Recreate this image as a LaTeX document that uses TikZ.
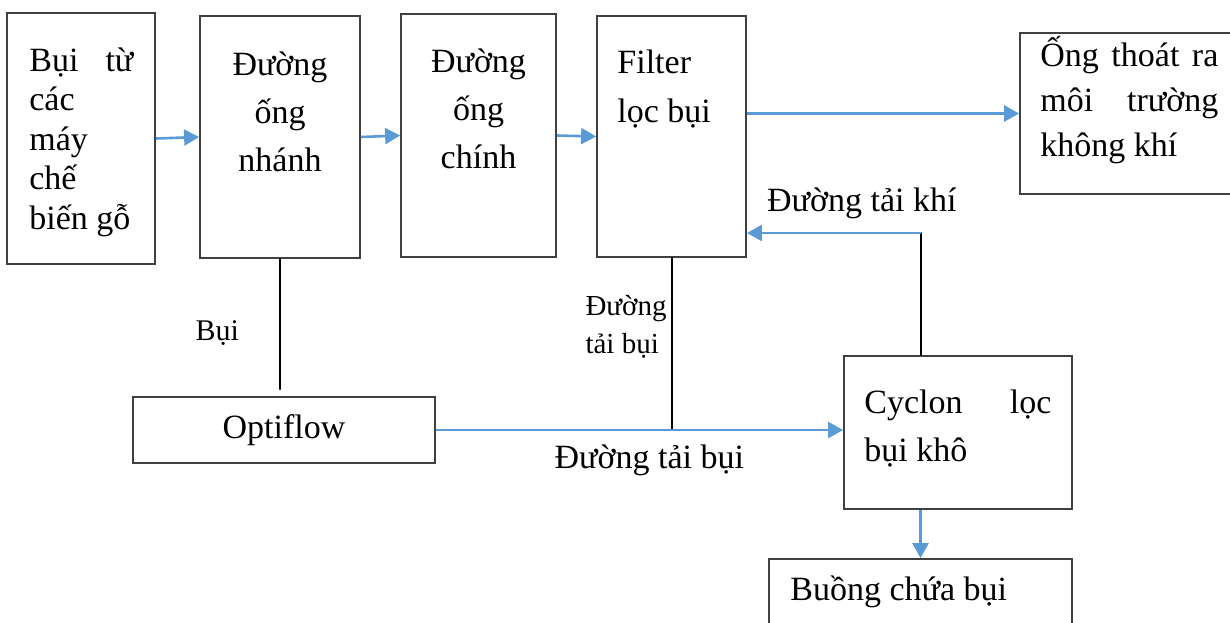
\documentclass[tikz,border=0pt]{standalone}
\usepackage{fontspec}
\setmainfont{Liberation Serif}
\usetikzlibrary{arrows.meta,calc,positioning}
\definecolor{flowblue}{RGB}{91,155,213}
\definecolor{boxgray}{RGB}{64,64,64}
\tikzset{
  box/.style 2 args={draw=boxgray, line width=0.9pt, minimum width=#1, minimum height=#2, inner sep=0pt},
  txt/.style={inner sep=0pt, font=\fontsize{17pt}{#1}\selectfont},
  txt/.default=24pt,
  lbl/.style={inner sep=0pt, font=\fontsize{#1}{19pt}\selectfont},
  conn/.style={line width=1pt, line cap=round},
  arr/.style={draw=flowblue, line width=1.3pt, -{Triangle[length=7.5pt,width=8pt]}}
}
\begin{document}
\begin{tikzpicture}[x=0.5pt, y=-0.5pt]
  \useasboundingbox (0,0) rectangle (1230,622);
  \clip (0,0) rectangle (1230,622);
  % boxes
  \node[box={74pt}{125.5pt}] (src) at (81,138.5) {};
  \node[box={80pt}{121pt}] (branch) at (280,137) {};
  \node[box={77.5pt}{121.5pt}] (main) at (478.5,135.5) {};
  \node[box={74.5pt}{120.5pt}] (filt) at (671.5,136.5) {};
  \node[box={115pt}{80.5pt}] (vent) at (1135,113.5) {};
  \node[box={151pt}{33pt}, txt] (opti) at (284,430) {Optiflow};
  \node[box={114pt}{76.5pt}] (cyc) at (958,432.5) {};
  \node[box={151.5pt}{60.5pt}] (bin) at (920.5,619.5) {};
  % box texts
  \node[txt=19.75pt, text width=52pt, align=justify, anchor=base west] (srcT) at (29,71)
    {Bụi\hfill từ\\ các\\ máy\\ chế\\ biến gỗ};
  \node[txt, text width=70pt, align=center, anchor=base] (branchT) at (280,75) {Đường\\ ống\\ nhánh};
  \node[txt, text width=70pt, align=center, anchor=base] (mainT) at (478.5,72) {Đường\\ ống\\ chính};
  \node[txt=24.5pt, text width=60pt, align=justify, anchor=base west] (filtT) at (617,73) {Filter\\ lọc bụi};
  \node[txt=22.5pt, text width=89pt, align=justify, anchor=base west] (ventT) at (1040,66)
    {Ống\hfill thoát\hfill ra\\ môi\hfill trường\\ không khí};
  \node[txt, text width=93.5pt, align=justify, anchor=base west] (cycT) at (864,413) {Cyclon\hfill lọc\\ bụi khô};
  \node[txt, anchor=base west] (binT) at (790,600) {Buồng chứa bụi};
  % connectors
  \coordinate (air) at (921,233);
  \draw[arr] (src.east) -- (branch.west);
  \draw[arr] (branch.east) -- (main.west);
  \draw[arr] (main.east) -- (filt.west);
  \draw[arr] (filt.east |- vent.west) -- (vent.west);
  \draw[conn] (branch.south) -- node[pos=0.57, left=20pt, lbl=15pt] {Bụi} ($(opti.north -| branch.south)+(0,-7)$);
  \draw[conn] (filt.south) -- node[pos=0.40, left=1.5pt, lbl=14.5pt, text width=41pt, align=justify] {Đường\\ tải bụi} (filt.south |- opti.east);
  \draw[arr] (opti.east) -- node[pos=0.524, below=7pt, txt] {Đường tải bụi} (opti.east -| cyc.west);
  \draw[conn] (air |- cyc.north) -- (air);
  \draw[arr] (air) -- node[pos=0.34, above=6.5pt, txt] {Đường tải khí} (air -| filt.east);
  \draw[arr] (bin.north |- cyc.south) -- (bin.north);
\end{tikzpicture}
\end{document}
